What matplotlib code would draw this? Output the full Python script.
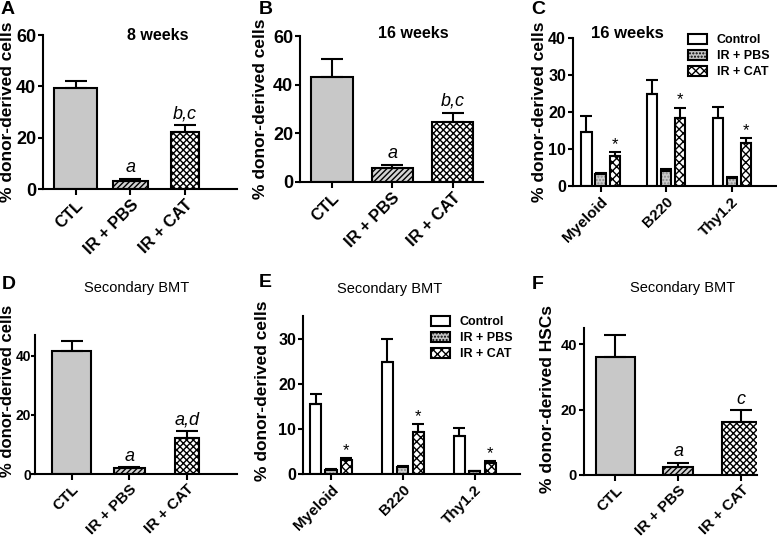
import numpy as np
import matplotlib
matplotlib.use("Agg")
import matplotlib.pyplot as plt
import matplotlib.patches as mpatches

plt.rcParams['font.family'] = ['Liberation Sans', 'DejaVu Sans']
plt.rcParams['font.weight'] = 'bold'
plt.rcParams['hatch.linewidth'] = 1.0

W, H = 777, 539

groups3 = ['CTL', 'IR + PBS', 'IR + CAT']
cells = ['Myeloid', 'B220', 'Thy1.2']
series = ['Control', 'IR + PBS', 'IR + CAT']

# panel A - 8 weeks
a_mean = [39.2, 3.0, 22.4]
a_err = [2.8, 0.9, 2.6]
a_sig = ['', 'a', 'b,c']
# panel B - 16 weeks
b_mean = [43.2, 5.7, 24.8]
b_err = [7.5, 1.3, 3.7]
b_sig = ['', 'a', 'b,c']
# panel C - 16 weeks lineages
c_ctl = [14.7, 24.8, 18.5]
c_ctl_err = [4.1, 3.9, 2.8]
c_pbs = [3.2, 4.1, 2.2]
c_pbs_err = [0.3, 0.5, 0.3]
c_cat = [8.2, 18.3, 11.7]
c_cat_err = [0.9, 2.9, 1.2]
# panel D - secondary BMT
d_mean = [41.7, 1.9, 12.3]
d_err = [3.4, 0.3, 2.2]
d_sig = ['', 'a', 'a,d']
# panel E - secondary BMT lineages
e_ctl = [15.4, 24.7, 8.5]
e_ctl_err = [2.4, 5.1, 1.6]
e_pbs = [0.9, 1.6, 0.6]
e_pbs_err = [0.1, 0.1, 0.1]
e_cat = [3.1, 9.4, 2.5]
e_cat_err = [0.4, 1.7, 0.4]
# panel F - HSCs
f_mean = [36.1, 2.6, 16.2]
f_err = [6.7, 1.1, 3.6]
f_sig = ['', 'a', 'c']

fig = plt.figure(figsize=(W / 100, H / 100), dpi=100)


def px_axes(l, t, r, b):
    return fig.add_axes([l / W, (H - b) / H, (r - l) / W, (b - t) / H])


def style(ax, ylim, yticks, ylabel, ytsize, lab_xy, labsize=12.5):
    for s in ['top', 'right']:
        ax.spines[s].set_visible(False)
    for s in ['left', 'bottom']:
        ax.spines[s].set_linewidth(1.5)
    ax.set_ylim(*ylim)
    ax.set_yticks(yticks)
    ax.tick_params(width=1.5, length=3.5, pad=1.5)
    ax.tick_params(axis='y', labelsize=ytsize)
    ax.tick_params(axis='x', length=4, pad=2)
    for t in ax.get_yticklabels():
        t.set_fontweight('bold')
    ax.set_ylabel(ylabel, fontsize=labsize, fontweight='bold')
    ax.yaxis.set_label_coords(*lab_xy)


def simple_panel(ax, mean, err, sig, ylim, yticks, widths, xlim, ytsize, xtsize, lab_xy,
                 ylabel='% donor-derived cells', labsize=12.5):
    x = np.arange(3)
    fcs = ['#c8c8c8', '#d4d4d4', 'white']
    hatches = [None, '//////', 'xxxxx']
    for i in range(3):
        ax.bar(x[i], mean[i], width=widths[i], color=fcs[i], edgecolor='black',
               linewidth=1.5, hatch=hatches[i], zorder=2)
    ax.errorbar(x, mean, yerr=[np.zeros(3), err], fmt='none', ecolor='black',
                elinewidth=1.5, capsize=8, capthick=1.5, zorder=3)
    for i in range(3):
        if sig[i]:
            ax.annotate(sig[i], (x[i], mean[i] + err[i]), xytext=(0, 2),
                        textcoords='offset points', ha='center', va='bottom',
                        fontsize=13, style='italic', fontweight='normal')
    ax.set_xlim(*xlim)
    ax.set_xticks(x)
    ax.set_xticklabels(groups3, rotation=45, ha='right', rotation_mode='anchor',
                       fontsize=xtsize, fontweight='bold')
    style(ax, ylim, yticks, ylabel, ytsize, lab_xy, labsize)


def group_panel(ax, ctl, ctl_e, pbs, pbs_e, cat, cat_e, ylim, yticks, xlim, legend_y, lab_xy):
    x = np.arange(3)
    off = 0.215
    w = 0.155
    xs_all = [x - off, x, x + off]
    h1 = ax.bar(xs_all[0], ctl, width=w, color='white', edgecolor='black',
                linewidth=1.5, zorder=2, label=series[0])
    # PBS: grey dotted fill, then black outline
    ax.bar(xs_all[1], pbs, width=w, color='#cccccc', edgecolor='#8a8a8a',
           linewidth=0, hatch='.....', zorder=2)
    ax.bar(xs_all[1], pbs, width=w, color='none', edgecolor='black',
           linewidth=1.5, zorder=2)
    h3 = ax.bar(xs_all[2], cat, width=w, color='white', edgecolor='black',
                linewidth=1.5, hatch='xxxx', zorder=2, label=series[2])
    for xs, m, e in [(xs_all[0], ctl, ctl_e), (xs_all[1], pbs, pbs_e), (xs_all[2], cat, cat_e)]:
        ax.errorbar(xs, m, yerr=[np.zeros(3), e], fmt='none', ecolor='black',
                    elinewidth=1.5, capsize=4, capthick=1.5, zorder=3)
    for i in range(3):
        ax.annotate('*', (x[i] + off, cat[i] + cat_e[i]), xytext=(0, 0),
                    textcoords='offset points', ha='center', va='bottom',
                    fontsize=12, fontweight='normal')
    ax.set_xlim(*xlim)
    ax.set_xticks(x)
    ax.set_xticklabels(cells, rotation=45, ha='right', rotation_mode='anchor',
                       fontsize=11, fontweight='bold')
    style(ax, ylim, yticks, '% donor-derived cells', 11.5, lab_xy)
    p2 = mpatches.Patch(facecolor='#c4c4c4', edgecolor='black', linewidth=1.5,
                        hatch='.....', label=series[1])
    ax.legend(handles=[h1, p2, h3], loc='upper right', bbox_to_anchor=(1.0, legend_y),
              frameon=False, handlelength=1.5, handleheight=0.85,
              handletextpad=0.8, labelspacing=0.3, borderaxespad=0.2,
              prop={'weight': 'bold', 'size': 9})


axA = px_axes(43, 35, 237, 189)
simple_panel(axA, a_mean, a_err, a_sig, (0, 60), [0, 20, 40, 60],
             [0.79, 0.63, 0.50], (-0.6, 2.95), 13, 12, (-0.144, 0.5))
axB = px_axes(300, 36, 483, 182)
simple_panel(axB, b_mean, b_err, b_sig, (0, 60), [0, 20, 40, 60],
             [0.68, 0.68, 0.68], (-0.53, 2.5), 13, 12, (-0.175, 0.5))
axC = px_axes(573, 38, 777, 186)
group_panel(axC, c_ctl, c_ctl_err, c_pbs, c_pbs_err, c_cat, c_cat_err,
            (0, 40), [0, 10, 20, 30, 40], (-0.42, 2.69), 1.08, (-0.127, 0.5))
axD = px_axes(35, 335, 237, 474)
simple_panel(axD, d_mean, d_err, d_sig, (0, 47), [0, 20, 40],
             [0.68, 0.54, 0.42], (-0.64, 2.87), 10, 11, (-0.098, 0.6),
             labsize=12)
axD.tick_params(axis='y', length=3, pad=0)
axE = px_axes(303, 316, 520, 474)
group_panel(axE, e_ctl, e_ctl_err, e_pbs, e_pbs_err, e_cat, e_cat_err,
            (0, 35), [0, 10, 20, 30], (-0.39, 2.63), 1.05, (-0.152, 0.53))
axF = px_axes(584, 328, 757, 475)
simple_panel(axF, f_mean, f_err, f_sig, (0, 45), [0, 20, 40],
             [0.62, 0.48, 0.60], (-0.5, 2.25), 10.5, 11, (-0.17, 0.52),
             ylabel='% donor-derived HSCs')


def ftext(x, y, s, **kw):
    fig.text(x / W, 1 - y / H, s, **kw)


ftext(158, 35, '8 weeks', fontsize=11.5, fontweight='bold', ha='center', va='center')
ftext(413, 34, '16 weeks', fontsize=11.5, fontweight='bold', ha='center', va='center')
ftext(627, 33, '16 weeks', fontsize=12, fontweight='bold', ha='center', va='center')
ftext(137, 288, 'Secondary BMT', fontsize=10.5, fontweight='normal', ha='center', va='center')
ftext(390, 289, 'Secondary BMT', fontsize=10.5, fontweight='normal', ha='center', va='center')
ftext(683, 288, 'Secondary BMT', fontsize=10.5, fontweight='normal', ha='center', va='center')

for lab, x, y in [('A', 1, 1), ('B', 259, 1), ('C', 531, 1),
                  ('D', 2, 276), ('E', 259, 274), ('F', 532, 276)]:
    ftext(x, y, lab, fontsize=14, fontweight='bold', ha='left', va='top')

fig.savefig('out.png', dpi=100)
